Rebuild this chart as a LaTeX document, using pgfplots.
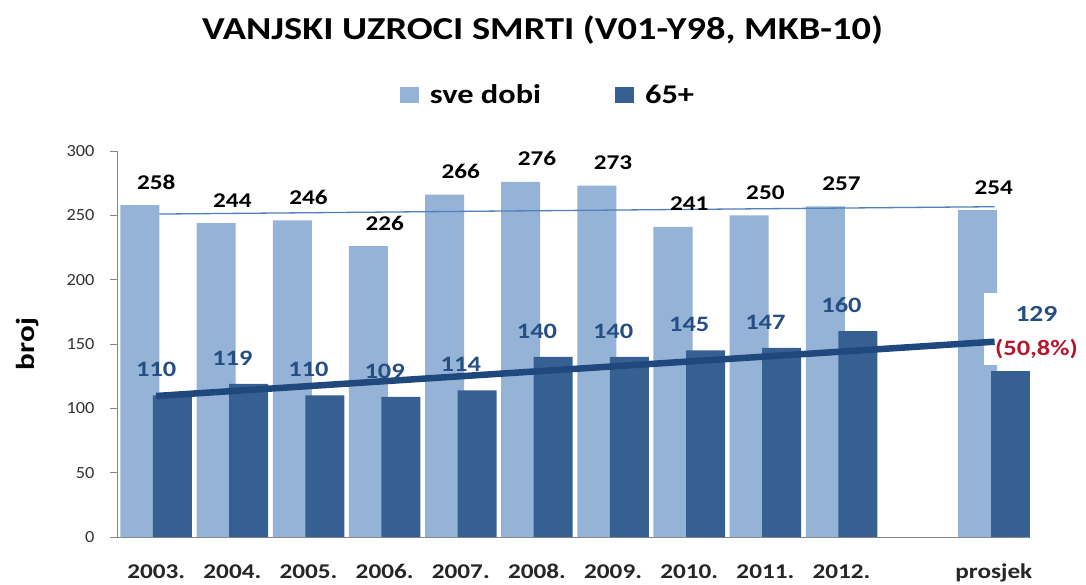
\documentclass[border=0pt]{standalone}
\usepackage{pgfplots}
\pgfplotsset{compat=1.18}
\usepackage{fontspec}
\setmainfont{Carlito}[FakeStretch=1.2]
\newfontfamily\tickfont{Carlito}[FakeStretch=1.08]
\definecolor{lightbar}{HTML}{95B3D7}
\definecolor{darkbar}{HTML}{376092}
\definecolor{darklab}{HTML}{254E83}
\definecolor{darkline}{HTML}{1F497D}
\definecolor{lightline}{HTML}{4F81BD}
\definecolor{redlab}{HTML}{B3182E}
\definecolor{axgray}{HTML}{868686}
\begin{document}
\begin{tikzpicture}
\path[use as bounding box] (0,0) rectangle (1086pt,584pt);
\fill[white] (0,0) rectangle (1086pt,584pt);
\node[anchor=base, font=\bfseries\fontsize{32}{38}\selectfont] at (542.5pt,544pt) {VANJSKI UZROCI SMRTI (V01-Y98, MKB-10)};
\begin{axis}[
  at={(117pt,47pt)}, anchor=south west,
  scale only axis, width=913pt, height=386pt,
  xmin=-0.515, xmax=11.475, ymin=0, ymax=300,
  axis x line=bottom, axis y line=left,
  axis line style={-, axgray, line width=0.8pt},
  xtick={0,1,2,3,4,5,6,7,8,9,11},
  xticklabels={2003.,2004.,2005.,2006.,2007.,2008.,2009.,2010.,2011.,2012.,prosjek},
  x tick style={draw=none},
  xticklabel style={font=\bfseries\fontsize{21}{25}\selectfont, anchor=base, yshift=-34pt, text=black!85},
  ytick={0,50,...,300},
  y tick style={axgray, line width=0.8pt},
  tick align=outside, major tick length=7pt,
  yticklabel style={font=\tickfont\fontsize{17}{20}\selectfont, text=black!80, anchor=east, xshift=-12pt},
  /pgf/number format/assume math mode=true,
  ylabel={broj},
  ylabel style={at={(axis description cs:-0.0975,0.5)}, anchor=center, font=\bfseries\fontsize{26}{30}\selectfont},
  clip=false,
  legend style={at={(0.472,1.145)}, anchor=center, draw=none, fill=none, legend columns=2,
    font=\bfseries\fontsize{27}{32}\selectfont, inner sep=0pt,
    /tikz/every odd column/.append style={column sep=9pt},
    /tikz/every even column/.append style={column sep=72pt}},
]
\addplot[ybar, bar width=39pt, bar shift=-16.25pt, fill=lightbar, draw=none,
  legend image code/.code={\fill[lightbar] (0pt,-8pt) rectangle (19pt,8pt);},
  nodes near coords={\pgfmathprintnumber{\pgfplotspointmeta}},
  every node near coord/.append style={anchor=base, inner sep=0pt, yshift=16pt, text=black, font=\bfseries\fontsize{21}{25}\selectfont}]
  coordinates {(0,258) (1,244) (2,246) (3,226) (4,266) (5,276) (6,273) (7,241) (8,250) (9,257) (11,254)};
\addlegendentry{sve dobi}
\addplot[ybar, bar width=39pt, bar shift=16.25pt, fill=darkbar, draw=none,
  legend image code/.code={\fill[darkbar] (0pt,-8pt) rectangle (19pt,8pt);},
  nodes near coords={\pgfmathprintnumber{\pgfplotspointmeta}},
  every node near coord/.append style={anchor=base, inner sep=0pt, yshift=18.5pt, text=darklab, font=\bfseries\fontsize{22}{26}\selectfont}]
  coordinates {(0,110) (1,119) (2,110) (3,109) (4,114) (5,140) (6,140) (7,145) (8,147) (9,160)};
\addlegendentry{65+}
\addplot[ybar, bar width=39pt, bar shift=16.25pt, fill=darkbar, draw=none, forget plot]
  coordinates {(11,129)};
\fill[white] (axis cs:10.876,133.7) rectangle (axis cs:12.2,189.6);
\addplot[lightline, line width=1.3pt, forget plot] coordinates {(0.04,251) (11.01,256.7)};
\addplot[darkline, line width=6.5pt, forget plot] coordinates {(0.0,109.6) (11.01,151.8)};
\node[text=darklab, font=\bfseries\fontsize{23}{27}\selectfont] at (axis cs:11.56,173.7) {129};
\node[text=redlab, font=\bfseries\fontsize{22}{26}\selectfont] at (axis cs:11.56,146.1) {(50,8\%)};
\end{axis}
\end{tikzpicture}
\end{document}
